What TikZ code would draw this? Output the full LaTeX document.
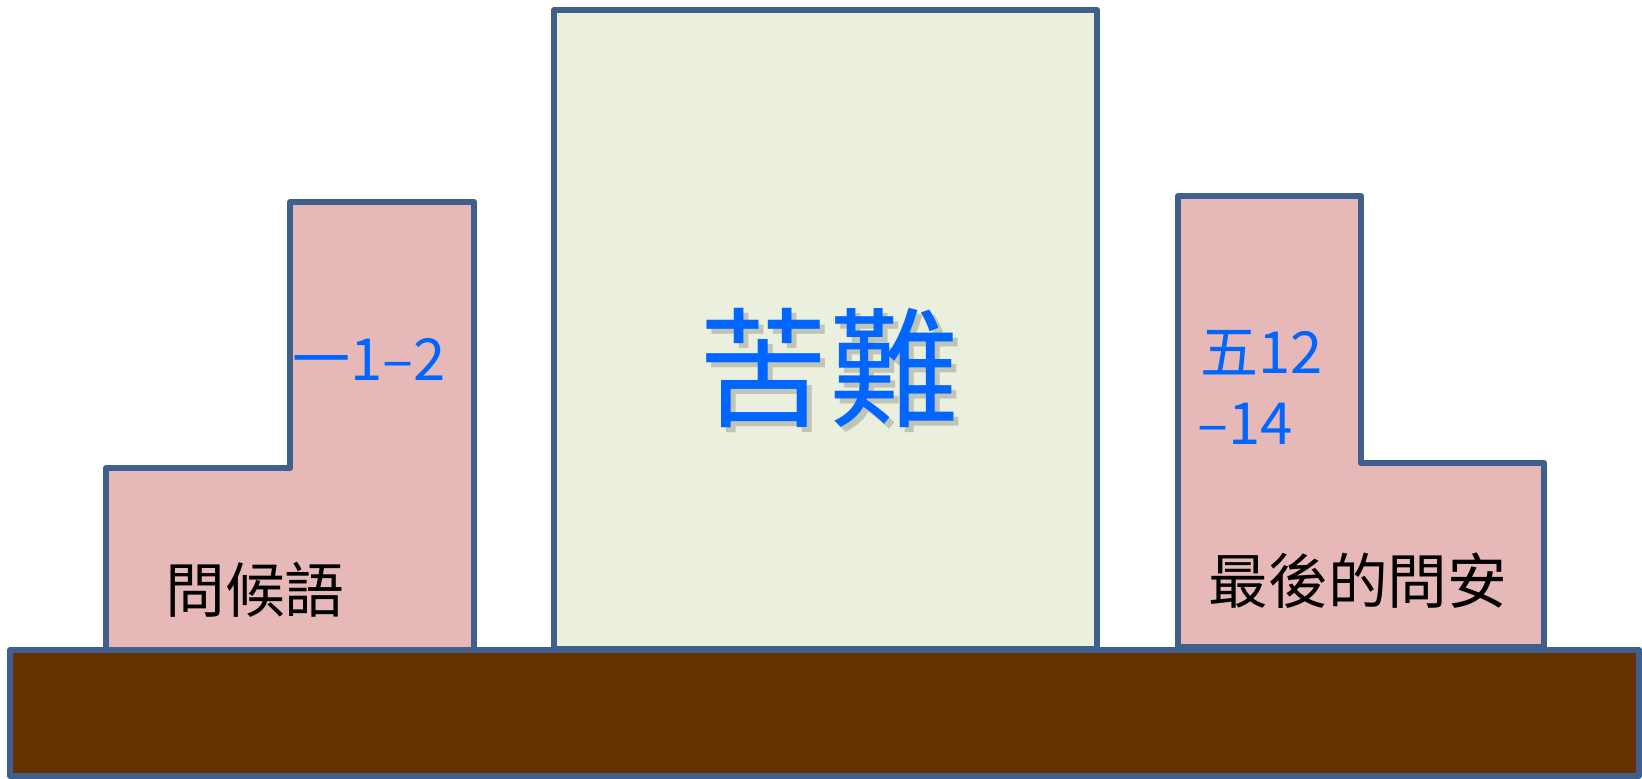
\documentclass[tikz,border=0pt]{standalone}
\usepackage{fontspec}
\newfontfamily\cjk{Noto Sans CJK TC}
\definecolor{edge}{RGB}{63,96,140}
\definecolor{pinkfill}{RGB}{230,184,183}
\definecolor{greenfill}{RGB}{235,240,222}
\definecolor{earth}{RGB}{102,51,0}
\definecolor{textblue}{RGB}{0,102,255}
\begin{document}
\begin{tikzpicture}[
      block/.style={draw=edge, line width=1.7pt, line join=round},
      ref/.style={text=textblue, font=\cjk\fontsize{16.5}{19}\selectfont, inner sep=0pt},
      label/.style={text=black, font=\cjk\fontsize{17}{20}\selectfont, inner sep=0pt}
    ]
    \useasboundingbox (0,0) rectangle (16.42,7.78);

    % Ground
    \draw[block, fill=earth] (0.10,0.02) rectangle (16.39,1.28);

    % Middle block
    \draw[block, fill=greenfill] (5.54,1.29) rectangle (10.97,7.68);
    \node[text=black, opacity=0.18, font=\cjk\fontsize{37}{40}\selectfont, inner sep=0pt]
      (shadow) at (8.34,4.05) {苦難};
    \node[text=textblue, font=\cjk\fontsize{37}{40}\selectfont, inner sep=0pt]
      (title) at (8.29,4.10) {苦難};

    % Left step
    \draw[block, fill=pinkfill] (1.06,1.28) -- (1.06,3.10) -- (2.90,3.10)
      -- (2.90,5.76) -- (4.74,5.76) -- (4.74,1.28) -- cycle;
    \node[ref] (open) at (3.69,4.19) {一1–2};
    \node[label] (greet) at (2.55,1.88) {問候語};

    % Right step
    \draw[block, fill=pinkfill] (11.78,1.31) -- (11.78,5.82) -- (13.61,5.82)
      -- (13.61,3.15) -- (15.44,3.15) -- (15.44,1.31) -- cycle;
    \node[ref, anchor=west] (closeA) at (12.00,4.25) {五12};
    \node[ref, anchor=west] (closeB) at (11.97,3.54) {–14};
    \node[label] (farewell) at (13.58,1.97) {最後的問安};

\end{tikzpicture}
\end{document}
